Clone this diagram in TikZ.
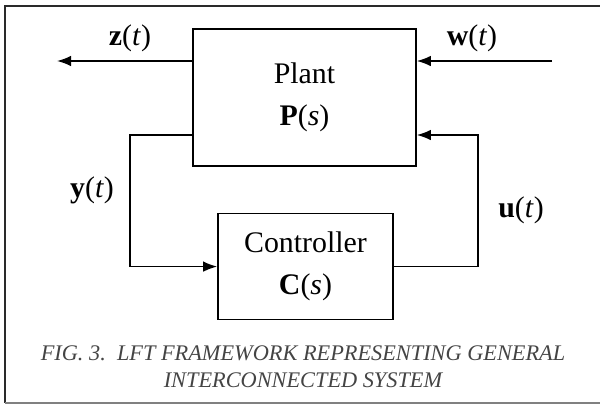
\documentclass[tikz,border=0pt]{standalone}
\usepackage{fontspec}
\setmainfont{Liberation Serif}
\usepackage{tikz}
\usetikzlibrary{
  calc,
  arrows.meta,
  positioning
}
\definecolor{framegray}{HTML}{2A2A2A}
\definecolor{captiongray}{HTML}{444444}

\begin{document}
\begin{tikzpicture}[
            node distance=1cm,
            font=\fontsize{17}{24}\selectfont,
            % Stili
            block/.style={rectangle, draw=black, line width=0.9pt, fill=white, align=center},
            arrow/.style={line width=0.9pt, -{Latex[length=2.8mm,width=2.1mm]}},
            sig/.style={inner sep=0pt}
        ]
        \useasboundingbox (0,0) rectangle (12,8.1);

        % Cornice
        \draw[framegray, line width=1.7pt] (12.1,7.98) -- (0.1,7.98) -- (0.1,0.04);
        \draw[gray, line width=0.8pt] (0.1,0.04) -- (12.1,0.04);

        % Nodi
        \node (plant) [block, minimum width=4.46cm, minimum height=2.74cm] at (6.09,6.15) {Plant\\\textbf{P}(\textit{s})};
        \node (ctrl) [block, minimum width=3.5cm, minimum height=2.12cm, below=0.92cm of plant, xshift=0.02cm] {Controller\\\textbf{C}(\textit{s})};

        % Punti liberi
        \coordinate (zout) at (1.14,6.88);
        \coordinate (win) at (11.04,6.88);
        \coordinate (ycorner) at (2.6,5.4);
        \coordinate (ucorner) at (9.56,5.4);

        % Etichette
        \node (zlab) [sig] at (2.6,7.34) {\textbf{z}(\textit{t})};
        \node (wlab) [sig] at (9.44,7.34) {\textbf{w}(\textit{t})};
        \node (ylab) [sig] at (1.84,4.3) {\textbf{y}(\textit{t})};
        \node (ulab) [sig] at (10.42,3.9) {\textbf{u}(\textit{t})};

        % Collegamenti
        \draw [arrow] (plant.west |- zout) -- (zout);
        \draw [arrow] (win) -- (plant.east |- win);
        \draw [arrow] (plant.west |- ycorner) -- (ycorner) |- (ctrl.west);
        \draw [arrow] (ctrl.east) -| (ucorner) -- (plant.east |- ucorner);

        % Didascalia
        \node (caption) [align=center, text=captiongray, font=\fontsize{12.7}{15.4}\selectfont\itshape] at (6.06,0.77)
            {FIG. 3.\ \ LFT FRAMEWORK REPRESENTING GENERAL\\INTERCONNECTED SYSTEM};

    \end{tikzpicture}
\end{document}
